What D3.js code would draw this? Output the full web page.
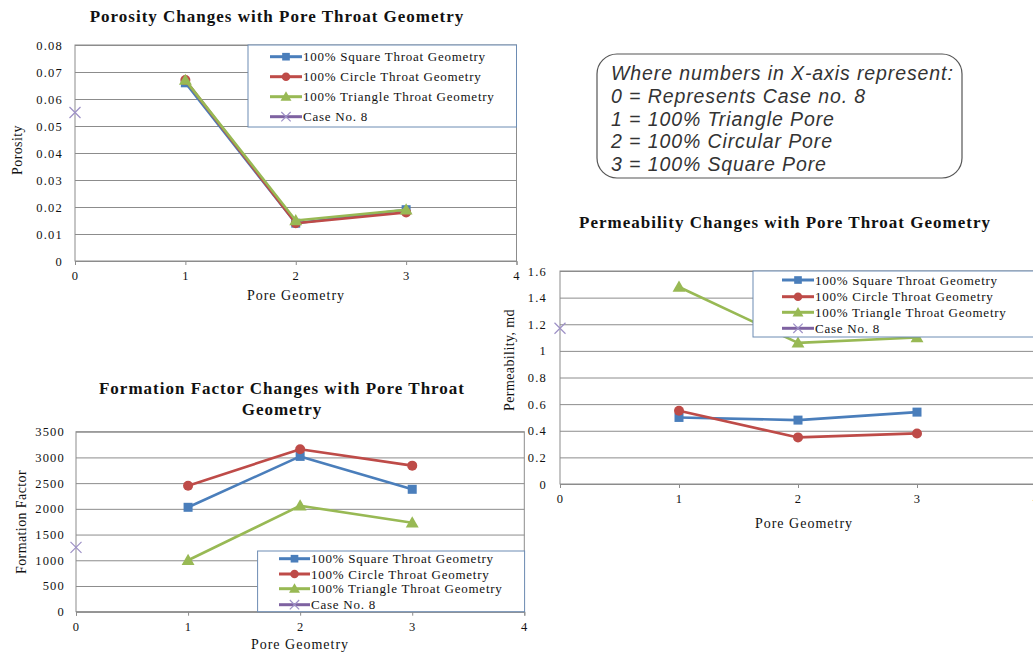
<!DOCTYPE html>
<html>
<head>
<meta charset="utf-8">
<script src="https://cdn.jsdelivr.net/npm/d3@7"></script>
<style>
  body { margin: 0; background: #fff; }
  svg { display: block; }
</style>
</head>
<body>
<svg id="fig" width="1033" height="654"></svg>
<script>
// ---- data ----
const poreGeometry = [1, 2, 3];
const caseNo8X = [0];
const xTickValues = [0, 1, 2, 3, 4];
const seriesNames = [
  "100% Square Throat Geometry",
  "100% Circle Throat Geometry",
  "100% Triangle Throat Geometry",
  "Case No. 8"
];
const seriesColors = ["#4a7ebb", "#be4b48", "#98b954", "#7e62a1"];
const seriesMarkers = ["square", "circle", "triangle", "times"];

const porositySquare   = [0.066, 0.014, 0.019];
const porosityCircle   = [0.067, 0.014, 0.018];
const porosityTriangle = [0.067, 0.015, 0.019];
const porosityCase8    = [0.055];
const porosityTicks    = [0, 0.01, 0.02, 0.03, 0.04, 0.05, 0.06, 0.07, 0.08];

const permSquare   = [0.50, 0.48, 0.54];
const permCircle   = [0.55, 0.35, 0.38];
const permTriangle = [1.48, 1.06, 1.10];
const permCase8    = [1.17];
const permTicks    = [0, 0.2, 0.4, 0.6, 0.8, 1, 1.2, 1.4, 1.6];

const ffSquare   = [2030, 3020, 2380];
const ffCircle   = [2450, 3160, 2840];
const ffTriangle = [1000, 2060, 1730];
const ffCase8    = [1250];
const ffTicks    = [0, 500, 1000, 1500, 2000, 2500, 3000, 3500];

const keyLines = [
  "Where numbers in X-axis represent:",
  "0 = Represents Case no. 8",
  "1 = 100% Triangle Pore",
  "2 = 100% Circular Pore",
  "3 = 100% Square Pore"
];

// ---- drawing ----
const svg = d3.select("#fig");
const SERIF = "'Liberation Serif', 'Times New Roman', serif";
const GRID = "#8c8c8c";
const LEGEND_BORDER = "#6d8cb3";

function drawMarker(sel, kind, color, cx, cy, scale) {
  const s = scale || 1;
  if (kind === "square") {
    const a = 9 * s;
    sel.append("rect").attr("x", cx - a / 2).attr("y", cy - a / 2)
      .attr("width", a).attr("height", a).attr("fill", color);
  } else if (kind === "circle") {
    sel.append("circle").attr("cx", cx).attr("cy", cy).attr("r", 5 * s).attr("fill", color);
  } else if (kind === "triangle") {
    sel.append("path")
      .attr("d", d3.symbol(d3.symbolTriangle, 72 * s * s)())
      .attr("transform", `translate(${cx},${cy + 1})`)
      .attr("fill", color);
  } else {
    const h = 5.5 * s;
    sel.append("path")
      .attr("d", `M${cx - h},${cy - h}L${cx + h},${cy + h}M${cx - h},${cy + h}L${cx + h},${cy - h}`)
      .attr("stroke", "#9d90c6").attr("stroke-width", 1.2).attr("fill", "none");
  }
}

function drawChart(cfg) {
  const g = svg.append("g");
  const x = d3.scaleLinear().domain([0, 4]).range([cfg.left, cfg.right]);
  const y = d3.scaleLinear().domain([0, cfg.yMax]).range([cfg.bottom, cfg.top]);
  const w = cfg.right - cfg.left;

  // gridlines
  const grid = g.append("g").attr("transform", `translate(${cfg.left},0)`)
    .call(d3.axisLeft(y).tickValues(cfg.ticks).tickSize(-w).tickFormat(""));
  grid.select(".domain").remove();
  grid.selectAll("line").attr("stroke", GRID).attr("stroke-width", 1);

  // plot frame
  g.append("rect").attr("x", cfg.left).attr("y", cfg.top)
    .attr("width", w).attr("height", cfg.bottom - cfg.top)
    .attr("fill", "none").attr("stroke", GRID).attr("stroke-width", 1);

  // x axis
  const xa = g.append("g").attr("transform", `translate(0,${cfg.bottom})`)
    .call(d3.axisBottom(x).tickValues(xTickValues).tickSize(4).tickPadding(6).tickFormat(d3.format("d")));
  xa.select(".domain").attr("stroke", GRID);
  xa.selectAll("line").attr("stroke", GRID);
  xa.selectAll("text").attr("font-family", SERIF).attr("font-size", 12.5)
    .attr("letter-spacing", "1.2px").attr("fill", "#111");

  // y axis labels
  const ya = g.append("g").attr("transform", `translate(${cfg.left},0)`)
    .call(d3.axisLeft(y).tickValues(cfg.ticks).tickSize(0).tickPadding(cfg.yPad).tickFormat(cfg.fmt));
  ya.select(".domain").remove();
  ya.selectAll("text").attr("font-family", SERIF).attr("font-size", 12.5)
    .attr("letter-spacing", "1.2px").attr("fill", "#111");

  // series
  const line = d3.line().x(d => x(d.x)).y(d => y(d.y));
  cfg.series.forEach((vals, i) => {
    const pts = poreGeometry.map((p, k) => ({ x: p, y: vals[k] }));
    g.append("path").datum(pts).attr("d", line)
      .attr("fill", "none").attr("stroke", seriesColors[i])
      .attr("stroke-width", 2.6).attr("stroke-linejoin", "round");
    pts.forEach(p => drawMarker(g, seriesMarkers[i], seriesColors[i], x(p.x), y(p.y), 1));
  });
  caseNo8X.forEach((cx, k) => drawMarker(g, "times", seriesColors[3], x(cx), y(cfg.case8[k]), 1));

  // legend
  const L = cfg.legend;
  g.append("rect").attr("x", L.x).attr("y", L.y).attr("width", L.w).attr("height", L.h)
    .attr("fill", "#fff").attr("stroke", LEGEND_BORDER).attr("stroke-width", 1);
  seriesNames.forEach((name, i) => {
    const ry = L.rows[i];
    g.append("line").attr("x1", L.lx0).attr("x2", L.lx1).attr("y1", ry).attr("y2", ry)
      .attr("stroke", seriesColors[i]).attr("stroke-width", 3);
    drawMarker(g, seriesMarkers[i], seriesColors[i], (L.lx0 + L.lx1) / 2, ry, 0.85);
    g.append("text").attr("x", L.lx1 + 1).attr("y", ry + 4.5)
      .attr("font-family", SERIF).attr("font-size", 13).attr("letter-spacing", "0.75px")
      .attr("fill", "#111").text(name);
  });

  // titles
  cfg.title.forEach((t, i) => {
    g.append("text").attr("x", cfg.titleX).attr("y", cfg.titleY + i * 21)
      .attr("text-anchor", "middle").attr("font-family", SERIF).attr("font-weight", "bold")
      .attr("font-size", 17).attr("letter-spacing", "1px").attr("fill", "#111").text(t);
  });
  g.append("text").attr("transform", `translate(${cfg.yTitle[0]},${cfg.yTitle[1]}) rotate(-90)`)
    .attr("text-anchor", "middle").attr("dy", "0.33em")
    .attr("font-family", SERIF).attr("font-size", 14).attr("letter-spacing", "0.4px")
    .attr("fill", "#111").text(cfg.yLabel);
  g.append("text").attr("x", cfg.xTitle[0]).attr("y", cfg.xTitle[1])
    .attr("text-anchor", "middle").attr("font-family", SERIF).attr("font-size", 14)
    .attr("letter-spacing", "1px").attr("fill", "#111").text("Pore Geometry");
}

const fmtZero = f => d => d === 0 ? "0" : f(d);

// porosity
drawChart({
  left: 75, right: 516.5, top: 45, bottom: 261,
  yMax: 0.08, ticks: porosityTicks, fmt: fmtZero(d3.format(".2f")), yPad: 12,
  series: [porositySquare, porosityCircle, porosityTriangle], case8: porosityCase8,
  legend: { x: 248, y: 45, w: 268.5, h: 82, rows: [56.7, 76.7, 96.7, 116.7], lx0: 270, lx1: 302 },
  title: ["Porosity Changes with Pore Throat Geometry"], titleX: 277, titleY: 22,
  yLabel: "Porosity", yTitle: [17, 150], xTitle: [296, 300]
});

// permeability
drawChart({
  left: 560, right: 1036, top: 271, bottom: 484,
  yMax: 1.6, ticks: permTicks, fmt: d => String(+d.toFixed(1)), yPad: 13,
  series: [permSquare, permCircle, permTriangle], case8: permCase8,
  legend: { x: 753, y: 271, w: 300, h: 66, rows: [280, 296.7, 312.3, 328.3], lx0: 782, lx1: 814 },
  title: ["Permeability Changes with Pore Throat Geometry"], titleX: 785, titleY: 228,
  yLabel: "Permeability, md", yTitle: [509, 360], xTitle: [804, 528]
});

// formation factor
drawChart({
  left: 76, right: 524.3, top: 431.7, bottom: 611.7,
  yMax: 3500, ticks: ffTicks, fmt: d3.format("d"), yPad: 11,
  series: [ffSquare, ffCircle, ffTriangle], case8: ffCase8,
  legend: { x: 257.6, y: 551, w: 267, h: 60.7, rows: [558.7, 574, 588.7, 604.7], lx0: 279, lx1: 310 },
  title: ["Formation Factor Changes with Pore Throat", "Geometry"], titleX: 282, titleY: 394,
  yLabel: "Formation Factor", yTitle: [21, 522], xTitle: [300, 649]
});

// x-axis key box
const key = svg.append("g");
key.append("rect").attr("x", 597).attr("y", 54).attr("width", 365).attr("height", 124)
  .attr("rx", 20).attr("ry", 20).attr("fill", "#fff").attr("stroke", "#555").attr("stroke-width", 1.2);
keyLines.forEach((t, i) => {
  key.append("text").attr("x", 611).attr("y", 80.3 + i * 22.6)
    .attr("font-family", "'Liberation Sans', Arial, sans-serif").attr("font-style", "italic")
    .attr("font-size", 19.5).attr("letter-spacing", "0.9px").attr("fill", "#333").text(t);
});
</script>
</body>
</html>
